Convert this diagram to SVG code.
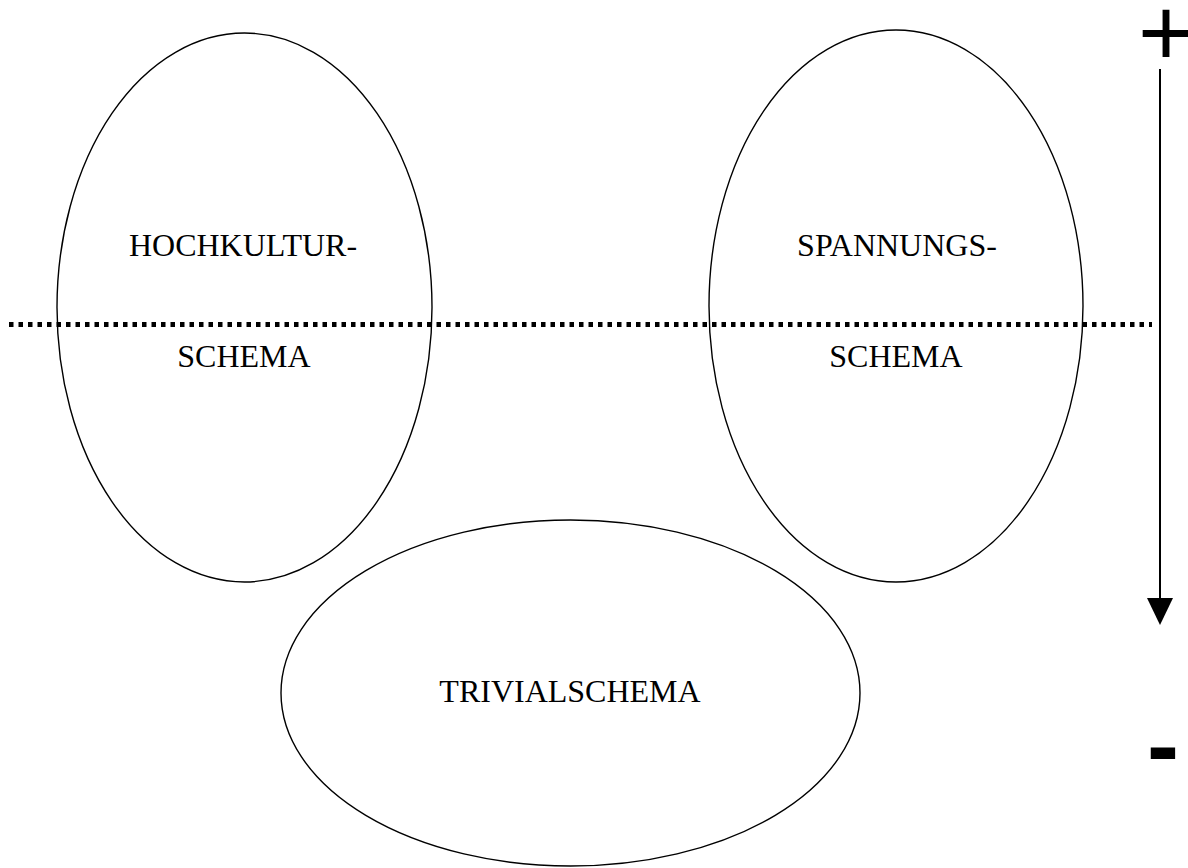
<svg xmlns="http://www.w3.org/2000/svg" width="1188" height="868" viewBox="0 0 1188 868">
<style>
.node ellipse{fill:none;stroke:#000;stroke-width:1.4}
.lbl{font-family:"Liberation Serif","Times New Roman",serif;font-size:32px;fill:#000;text-anchor:middle}
.sign{font-family:"Liberation Sans",Arial,sans-serif;fill:#000;text-anchor:middle}
</style>
<defs>
<marker id="arr" markerWidth="27" markerHeight="26" refX="0" refY="13" orient="auto" markerUnits="userSpaceOnUse" viewBox="0 0 27 26">
<path d="M0,0 L27,13 L0,26 Z" fill="#000"/>
</marker>
</defs>
<rect width="1188" height="868" fill="#fff"/>
<g id="hochkultur" class="node">
<ellipse cx="244.5" cy="307.5" rx="187.5" ry="274.5"/>
<text class="lbl" x="243" y="256">HOCHKULTUR-</text>
<text class="lbl" x="244" y="367">SCHEMA</text>
</g>
<g id="spannung" class="node">
<ellipse cx="896" cy="306" rx="187" ry="276"/>
<text class="lbl" x="897" y="256">SPANNUNGS-</text>
<text class="lbl" x="896" y="367">SCHEMA</text>
</g>
<g id="trivial" class="node">
<ellipse cx="570.5" cy="693" rx="289.5" ry="173"/>
<text class="lbl" x="570" y="702">TRIVIALSCHEMA</text>
</g>
<g id="connectors">
<line x1="9" y1="324.5" x2="1152" y2="324.5" stroke="#000" stroke-width="5" stroke-dasharray="4.5 5"/>
<line x1="1160" y1="69" x2="1160" y2="598" stroke="#000" stroke-width="2" marker-end="url(#arr)"/>
</g>
<g id="scale">
<text class="sign" x="1166" y="66" font-size="96">+</text>
<text class="sign" x="1163" y="778" font-size="96" font-weight="bold">-</text>
</g>
</svg>
